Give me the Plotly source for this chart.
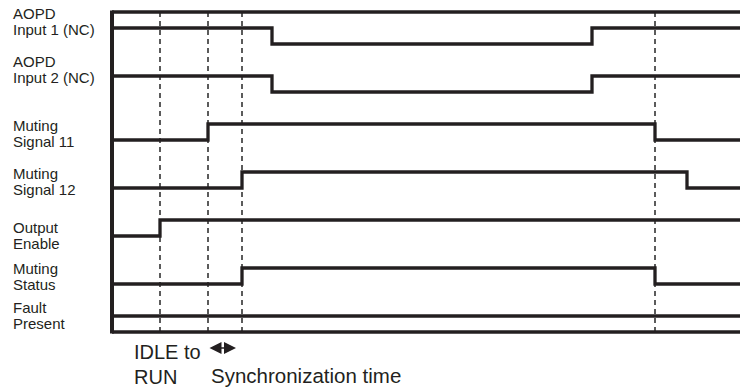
import plotly.graph_objects as go

# ---- data ----
label_line1 = ["AOPD", "AOPD", "Muting", "Muting", "Output", "Muting", "Fault"]
label_line2 = ["Input 1 (NC)", "Input 2 (NC)", "Signal 11", "Signal 12", "Enable", "Status", "Present"]

# transition times and logic states per signal
aopd1_t = [0, 160, 480]
aopd1_s = [1, 0, 1]
aopd2_t = [0, 160, 480]
aopd2_s = [1, 0, 1]
mute11_t = [0, 96, 543]
mute11_s = [0, 1, 0]
mute12_t = [0, 130, 575]
mute12_s = [0, 1, 0]
outen_t = [0, 48]
outen_s = [0, 1]
mstat_t = [0, 130, 543]
mstat_s = [0, 1, 0]
fault_t = [0]
fault_s = [0]

event_times = [48, 96, 130, 543]
t_end = 628

bottom_text = ["IDLE to", "RUN", "Synchronization time"]

# ---- layout helpers ----
signals = [(aopd1_t, aopd1_s), (aopd2_t, aopd2_s), (mute11_t, mute11_s),
           (mute12_t, mute12_s), (outen_t, outen_s), (mstat_t, mstat_s),
           (fault_t, fault_s)]
lane_base = [288, 240, 192, 144, 96, 48, 16]
amp = 16
label_y1 = [318.5, 271, 207, 159, 105, 64, 25]
label_gap = 16

INK = "#231f20"
fig = go.Figure()

for (ts, ss), base in zip(signals, lane_base):
    xs = list(ts) + [t_end + 10]
    ys = [base + amp * s for s in ss] + [base + amp * ss[-1]]
    fig.add_trace(go.Scatter(x=xs, y=ys, mode="lines", line=dict(color=INK, width=3.3, shape="hv"),
                             hoverinfo="skip", showlegend=False))

shapes = []
# frame
shapes.append(dict(type="line", xref="x", yref="y", x0=0, x1=t_end + 10, y0=320, y1=320,
                   line=dict(color=INK, width=3.5)))
shapes.append(dict(type="line", xref="x", yref="y", x0=0, x1=t_end + 10, y0=0, y1=0,
                   line=dict(color=INK, width=3.5)))
shapes.append(dict(type="line", xref="x", yref="y", x0=0, x1=0, y0=-1.5, y1=321.5,
                   line=dict(color=INK, width=4)))
for et in event_times:
    shapes.append(dict(type="line", xref="x", yref="y", x0=et, x1=et, y0=0, y1=320,
                       line=dict(color="#4a4a4a", width=1.8, dash="5px,4px"), layer="below"))

lfont = dict(family="Liberation Sans, Arial, sans-serif", size=15, color=INK)
annotations = []
for l1, l2, ly in zip(label_line1, label_line2, label_y1):
    annotations.append(dict(xref="x", yref="y", x=-101, y=ly, text=l1,
                            showarrow=False, xanchor="left", yanchor="middle", font=lfont))
    annotations.append(dict(xref="x", yref="y", x=-101, y=ly - label_gap, text=l2,
                            showarrow=False, xanchor="left", yanchor="middle", font=lfont))

bfont = dict(family="Liberation Sans, Arial, sans-serif", size=20, color=INK)
annotations.append(dict(xref="x", yref="y", x=20, y=-20, text=bottom_text[0], showarrow=False,
                        xanchor="left", yanchor="middle", font=bfont))
annotations.append(dict(xref="x", yref="y", x=20, y=-45, text=bottom_text[1], showarrow=False,
                        xanchor="left", yanchor="middle", font=bfont))
annotations.append(dict(xref="x", yref="y", x=97, y=-43, text=bottom_text[2], showarrow=False,
                        xanchor="left", yanchor="middle",
                        font=dict(family="Liberation Sans, Arial, sans-serif", size=20.5, color=INK)))
# double-headed arrow
annotations.append(dict(xref="x", yref="y", axref="x", ayref="y", x=124, y=-16, ax=96, ay=-16,
                        text="", showarrow=True, arrowside="end+start", arrowhead=2,
                        arrowsize=1.5, arrowwidth=1.6, arrowcolor=INK, standoff=0, startstandoff=0))

fig.update_layout(
    width=740, height=388,
    margin=dict(l=0, r=0, t=0, b=0),
    paper_bgcolor="white", plot_bgcolor="white",
    xaxis=dict(range=[-112, 628], visible=False, fixedrange=True),
    yaxis=dict(range=[-56, 332], visible=False, fixedrange=True),
    shapes=shapes, annotations=annotations,
    showlegend=False,
)

# remove the default page margin so the figure fills the window exactly
fig.write_html("out.html", config={"displayModeBar": False},
               post_script="document.body.style.margin='0px';")
